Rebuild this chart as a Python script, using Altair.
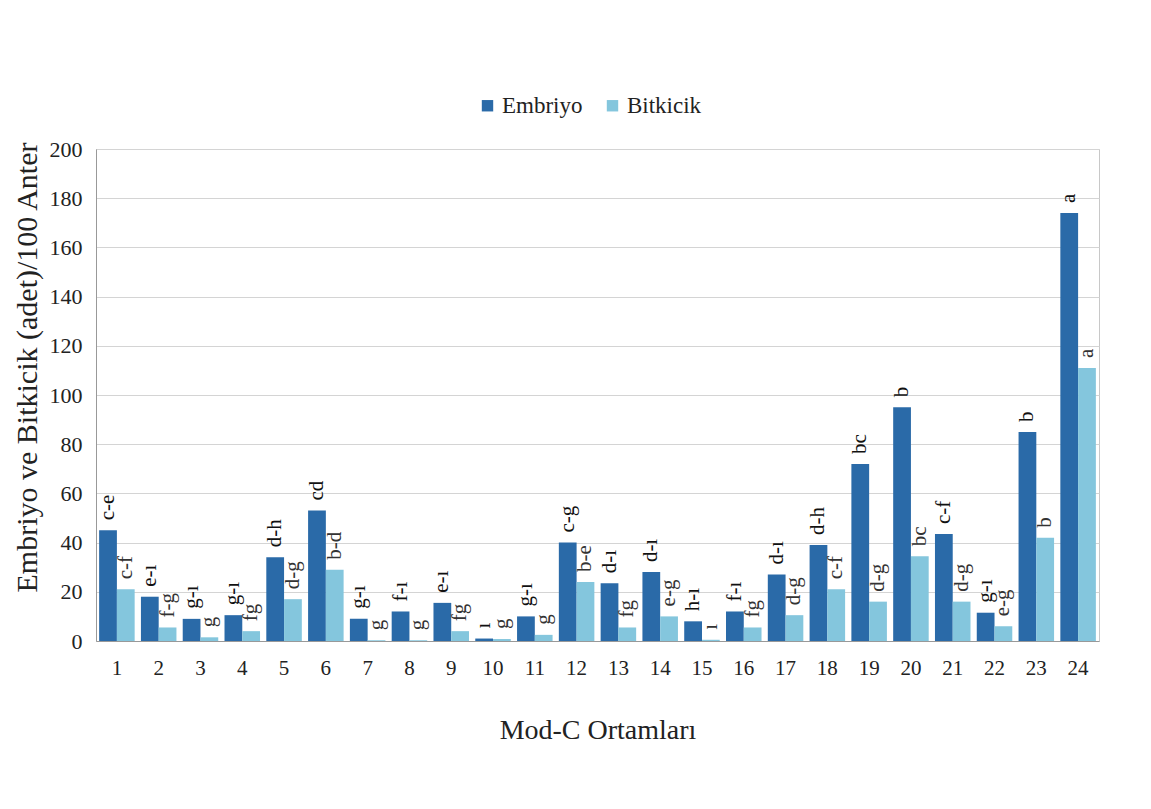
import altair as alt
import pandas as pd

ortam = [str(i) for i in range(1, 25)]
embriyo = [45, 18, 9, 10.5, 34, 53, 9, 12, 15.5, 1, 10, 40, 23.5, 28, 8, 12, 27, 39, 72, 95, 43.5, 11.5, 85, 174]
bitkicik = [21, 5.5, 1.5, 4, 17, 29, 0.3, 0.3, 4, 0.8, 2.5, 24, 5.5, 10, 0.5, 5.5, 10.5, 21, 16, 34.5, 16, 6, 42, 111]
harf_e = ["c-e", "e-ı", "g-ı", "g-ı", "d-h", "cd", "g-ı", "f-ı", "e-ı", "ı", "g-ı", "c-g",
          "d-ı", "d-ı", "h-ı", "f-ı", "d-ı", "d-h", "bc", "b", "c-f", "g-ı", "b", "a"]
harf_b = ["c-f", "f-g", "g", "fg", "d-g", "b-d", "g", "g", "fg", "g", "g", "b-e",
          "fg", "e-g", "ı", "fg", "d-g", "c-f", "d-g", "bc", "d-g", "e-g", "b", "a"]
seriler = ["Embriyo", "Bitkicik"]
renkler = ["#2a6aa8", "#84c6dd"]

rows = []
for i, o in enumerate(ortam):
    rows.append({"ortam": o, "seri": "Embriyo", "deger": embriyo[i], "harf": harf_e[i]})
    rows.append({"ortam": o, "seri": "Bitkicik", "deger": bitkicik[i], "harf": harf_b[i]})
df = pd.DataFrame(rows)

FONT = "Liberation Serif"

x = alt.X("ortam:N", sort=ortam, title="Mod-C Ortamları",
          scale=alt.Scale(paddingInner=0.15, paddingOuter=0.075),
          axis=alt.Axis(labelAngle=0, labelFontSize=21, labelPadding=16, ticks=False,
                        labelFont=FONT, titleFont=FONT,
                        titleFontSize=28, titlePadding=38, titleFontWeight="normal",
                        domainColor="#999999", labelColor="#222222", titleColor="#222222"))
y = alt.Y("deger:Q", title="Embriyo ve Bitkicik (adet)/100 Anter",
          scale=alt.Scale(domain=[0, 200], nice=False),
          axis=alt.Axis(values=list(range(0, 201, 20)), labelFontSize=22, labelPadding=14,
                        labelFont=FONT, titleFont=FONT, titleY=218,
                        ticks=False, titleFontSize=30, titlePadding=7, titleFontWeight="normal",
                        gridColor="#d4d4d4", domainColor="#999999",
                        labelColor="#222222", titleColor="#222222"))
xo = alt.XOffset("seri:N", sort=seriler, scale=alt.Scale(paddingInner=0))

bars = alt.Chart(df).mark_bar().encode(
    x=x, y=y, xOffset=xo,
    color=alt.Color("seri:N", sort=seriler,
                    scale=alt.Scale(domain=seriler, range=renkler),
                    legend=alt.Legend(title=None, orient="none", direction="horizontal",
                                      legendX=380, legendY=-55,
                                      labelFont=FONT, labelFontSize=23,
                                      symbolType="square", symbolSize=130,
                                      symbolStrokeWidth=0, columnPadding=18,
                                      labelOffset=3, labelColor="#222222")),
)

texts = alt.Chart(df).mark_text(angle=270, align="left", baseline="middle", dx=10,
                                fontSize=21, font=FONT).encode(
    x=x, y=y, xOffset=xo, text="harf:N",
    color=alt.Color("seri:N", sort=seriler,
                    scale=alt.Scale(domain=seriler, range=["#111111", "#333333"]),
                    legend=None),
)

chart = alt.layer(bars, texts).resolve_scale(color="independent").properties(
    width=1003, height=492,
    padding={"left": 4, "top": 86, "right": 5, "bottom": 5},
).configure(font=FONT).configure_view(stroke="#c8c8c8").configure_legend(
    labelFont=FONT
).configure_text(font=FONT)

chart.save("out.html", embed_options={"renderer": "svg", "actions": False})
